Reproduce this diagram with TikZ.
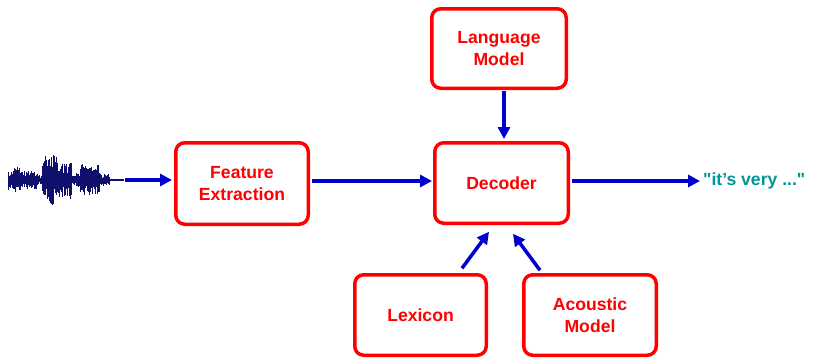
\documentclass[tikz,border=0pt]{standalone}
\usepackage{fontspec}
\setmainfont{Liberation Sans}
\newfontfamily\outfont{Liberation Sans}
\usetikzlibrary{arrows.meta,calc}
\definecolor{boxred}{RGB}{255,0,0}
\definecolor{arrblue}{RGB}{0,0,204}
\definecolor{outteal}{RGB}{0,150,150}
\definecolor{wavenavy}{RGB}{15,15,110}
\begin{document}
\begin{tikzpicture}[x=1pt,y=-1pt,
 blk/.style={draw=boxred, line width=3.5pt, rounded corners=9pt, fill=white, text=boxred,
   font=\fontsize{17.6}{22.5}\selectfont\bfseries, align=center, inner sep=0pt},
 arr/.style={draw=arrblue, line width=3.5pt, -{Triangle[length=12pt,width=12pt]}},
 wav/.style={draw=wavenavy, line width=0.7pt}]
\useasboundingbox (0,0) rectangle (814,359);
% boxes
\node[blk, minimum width=132.5pt, minimum height=81.5pt] (fe) at (242,183.5) {Feature\\Extraction};
\node[blk, minimum width=134.5pt, minimum height=79.5pt] (lm) at (499,48.5) {Language\\Model};
\node[blk, minimum width=133.5pt, minimum height=80.5pt] (dec) at (501.5,183) {Decoder};
\node[blk, minimum width=131.5pt, minimum height=80.5pt] (lex) at (420.5,315) {Lexicon};
\node[blk, minimum width=132.5pt, minimum height=80.5pt] (acm) at (590,315) {Acoustic\\Model};
\node[anchor=west, inner sep=0pt, text=outteal, font=\outfont\fontsize{17.6}{22}\selectfont\bfseries] (out) at (703,181) {"it’s very ..."};
% waveform
\pgfmathsetseed{11}
\foreach \i in {0,...,165} {
  \pgfmathsetmacro{\xx}{8+0.7*\i}
  \pgfmathsetmacro{\env}{(\xx<14)?10:((\xx<22)?14:((\xx<38)?10:((\xx<42)?5:((\xx<57)?25:((\xx<72)?19:((\xx<80)?7:((\xx<100)?16:((\xx<110)?6:1.5))))))))}
  \pgfmathsetmacro{\hu}{\env*(0.35+0.65*rnd)}
  \pgfmathsetmacro{\hd}{\env*(0.35+0.65*rnd)}
  \draw[wav] (\xx,180-\hu) -- (\xx,180+\hd);
}
\draw[wav, line width=0.8pt] (8,180) -- (124,180);
\coordinate (ws) at (125,180);
% arrows
\draw[arr, shorten >=2pt] (ws) -- (fe.west |- ws);
\draw[arr, shorten <=2pt, shorten >=1pt] (fe.east |- 0,181) -- (dec.west |- 0,181);
\draw[arr, shorten <=1pt, shorten >=2pt] ($(lm.south)+(5,0)$) -- ($(dec.north)+(2.5,0)$);
\draw[arr] ($(lex.north)+(41.5,-4.75)$) -- ($(dec.south)+(-12.5,6.75)$);
\draw[arr] ($(acm.north)+(-50,-2.75)$) -- ($(dec.south)+(11.5,8.75)$);
\draw[arr, shorten <=2pt, shorten >=3pt] (dec.east |- out.west) -- (out.west);
\end{tikzpicture}
\end{document}
